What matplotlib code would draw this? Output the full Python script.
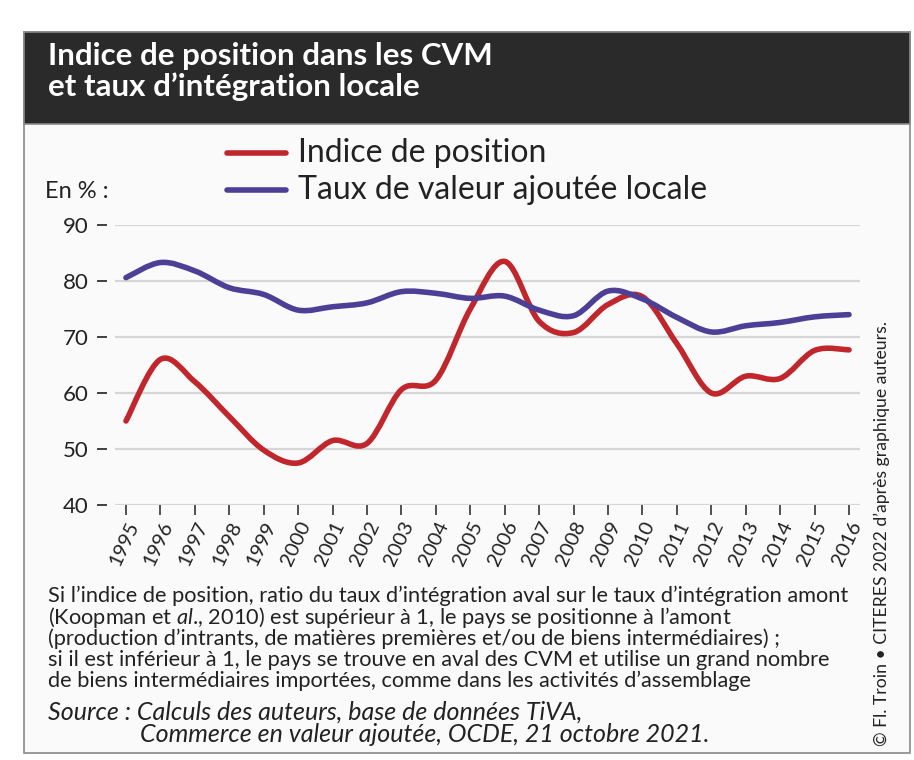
import matplotlib
matplotlib.use("Agg")
import matplotlib.pyplot as plt
from matplotlib.patches import Rectangle, PathPatch
from matplotlib.path import Path
from matplotlib.lines import Line2D

W, H = 914, 760

years = list(range(1995, 2017))
indice = [55.0, 66.0, 62.0, 55.8, 49.8, 47.5, 51.5, 51.0, 60.6, 62.3, 75.0, 83.5,
          72.8, 70.8, 75.8, 77.2, 68.8, 60.0, 63.0, 62.6, 67.6, 67.7]
taux = [80.6, 83.3, 81.8, 78.8, 77.6, 74.8, 75.4, 76.1, 78.1, 77.8, 76.9, 77.3,
        74.8, 73.8, 78.2, 76.8, 73.5, 70.9, 72.0, 72.6, 73.6, 74.0]
yticks = [40, 50, 60, 70, 80, 90]

RED = "#c0262c"
BLUE = "#4c3f95"
FONT = "Lato"
TXT = "#222222"

plt.rcParams["font.family"] = [FONT, "DejaVu Sans"]
plt.rcParams["mathtext.fontset"] = "custom"
plt.rcParams["mathtext.it"] = FONT + ":italic"
plt.rcParams["mathtext.rm"] = FONT


def fx(x):
    return x / W


def fy(y):
    return 1 - y / H


def smooth_path(xs, ys):
    # catmull-rom through the points, drawn as cubic bezier segments
    pts = list(zip(xs, ys))
    verts = [pts[0]]
    codes = [Path.MOVETO]
    n = len(pts)
    for i in range(n - 1):
        p0 = pts[i - 1] if i > 0 else pts[i]
        p1 = pts[i]
        p2 = pts[i + 1]
        p3 = pts[i + 2] if i + 2 < n else pts[i + 1]
        c1 = (p1[0] + (p2[0] - p0[0]) / 6, p1[1] + (p2[1] - p0[1]) / 6)
        c2 = (p2[0] - (p3[0] - p1[0]) / 6, p2[1] - (p3[1] - p1[1]) / 6)
        verts += [c1, c2, p2]
        codes += [Path.CURVE4] * 3
    return Path(verts, codes)


fig = plt.figure(figsize=(W / 100, H / 100), dpi=100)
fig.patch.set_facecolor("white")

# panel + dark header (behind the axes)
fig.add_artist(Rectangle((fx(24), fy(753)), fx(910 - 24), (753 - 32) / H,
                         facecolor="#fafafa", edgecolor="#8a8a8a", lw=1.2, zorder=-2))
fig.add_artist(Rectangle((fx(24), fy(124)), fx(910 - 24), (124 - 32) / H,
                         facecolor="#2a2a2a", edgecolor="#8a8a8a", lw=1.2, zorder=-1))

fig.text(fx(48), fy(56), "Indice de position dans les CVM", color="white",
         fontsize=22.5, fontweight="bold", va="center")
fig.text(fx(48), fy(87), "et taux d\u2019int\u00e9gration locale", color="white",
         fontsize=22.5, fontweight="bold", va="center")

ax = fig.add_axes([fx(115), fy(505), fx(860 - 115), (505 - 225) / H])
ax.set_facecolor("none")
ax.set_xlim(1995 - 11 / 34.5, 2016 + 11 / 34.5)
ax.set_ylim(40, 90)

for spine in ax.spines.values():
    spine.set_visible(False)
ax.spines["left"].set_position(("outward", 5.8))

ax.set_yticks(yticks)
ax.set_yticklabels([str(v) for v in yticks], fontsize=16, color=TXT)
ax.tick_params(axis="y", length=7.2, width=1.3, color="#333333", pad=6)
ax.set_xticks(years)
ax.set_xticklabels([str(y) for y in years], rotation=65, ha="right",
                   rotation_mode="anchor", fontsize=14.5, color=TXT)
ax.tick_params(axis="x", length=7, width=1.2, color="#333333", pad=3)
ax.grid(axis="y", color="#d6d6d6", lw=1.6)
ax.set_axisbelow(True)

for vals, col in [(indice, RED), (taux, BLUE)]:
    ax.add_patch(PathPatch(smooth_path(years, vals), facecolor="none",
                           edgecolor=col, lw=4, capstyle="round",
                           joinstyle="round", clip_on=False, zorder=3))

fig.text(fx(45), fy(191), "En % :", fontsize=17, color=TXT, va="center")

# legend
for yy, col, lab in [(153, RED, "Indice de position"),
                     (190, BLUE, "Taux de valeur ajout\u00e9e locale")]:
    fig.add_artist(Line2D([fx(227), fx(286)], [fy(yy), fy(yy)], color=col,
                          lw=4, solid_capstyle="round"))
    fig.text(fx(298), fy(yy), lab, fontsize=23, color=TXT, va="center")

note = ["Si l\u2019indice de position, ratio du taux d\u2019int\u00e9gration aval sur le taux d\u2019int\u00e9gration amont",
        "(Koopman et $\\mathit{al}$., 2010) est sup\u00e9rieur \u00e0 1, le pays se positionne \u00e0 l\u2019amont",
        "(production d\u2019intrants, de mati\u00e8res premi\u00e8res et/ou de biens interm\u00e9diaires) ;",
        "si il est inf\u00e9rieur \u00e0 1, le pays se trouve en aval des CVM et utilise un grand nombre",
        "de biens interm\u00e9diaires import\u00e9es, comme dans les activit\u00e9s d\u2019assemblage"]
for i, line in enumerate(note):
    fig.text(fx(48), fy(596 + 21.3 * i), line, fontsize=15.7, color=TXT, va="center")

fig.text(fx(48), fy(712), "Source : Calculs des auteurs, base de donn\u00e9es TiVA,",
         fontsize=18, style="italic", color=TXT, va="center")
fig.text(fx(140), fy(735), "Commerce en valeur ajout\u00e9e, OCDE, 21 octobre 2021.",
         fontsize=18, style="italic", color=TXT, va="center")

fig.text(fx(882), fy(534), "\u00a9 Fl. Troin \u2022 CITERES 2022 d\u2019apr\u00e8s graphique auteurs.",
         rotation=90, fontsize=12.7, color=TXT, ha="center", va="center")

fig.savefig("out.png", dpi=100)
